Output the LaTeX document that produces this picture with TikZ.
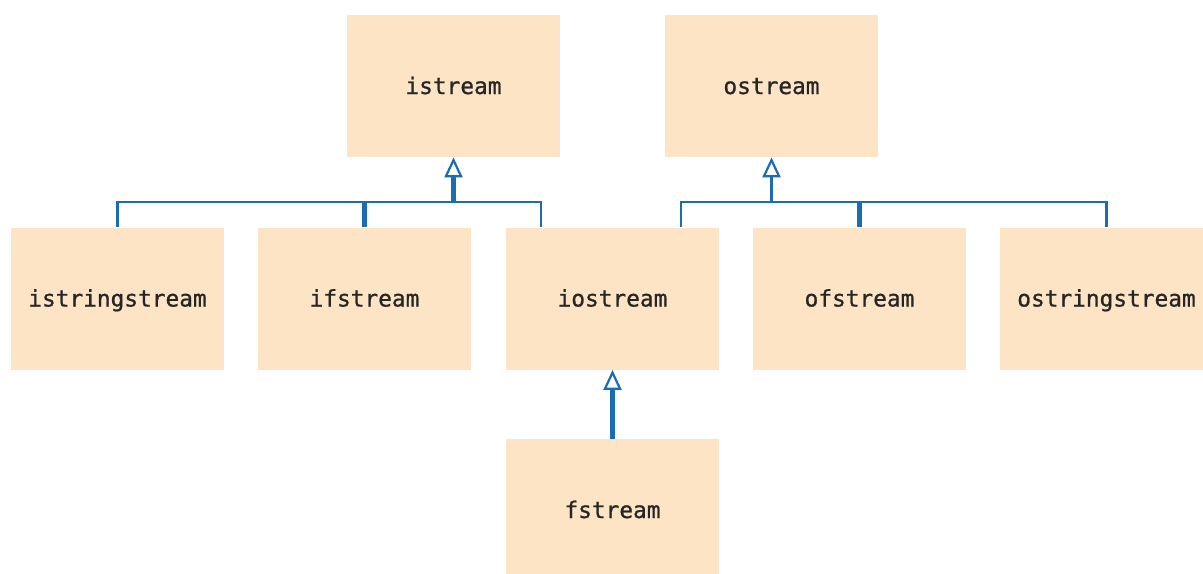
\documentclass[tikz,border=0pt]{standalone}
\usepackage{fontspec}
\newfontfamily\codefont[FakeBold=0.9]{DejaVu Sans Mono}
\usetikzlibrary{arrows.meta}
\definecolor{boxfill}{HTML}{FCE4C4}
\definecolor{linkblue}{HTML}{1A6DB5}
\definecolor{txt}{HTML}{262626}
\tikzset{
  cls/.style={fill=boxfill, draw=none, minimum width=106.5pt, minimum height=71pt,
    inner sep=0pt, text=txt, font=\codefont\fontsize{11.4}{14}\selectfont,
    text depth=0pt, text height=8pt},
  conn/.style={draw=linkblue, line width=1.1pt, line join=miter},
  thickconn/.style={draw=linkblue, line width=2.1pt, line join=miter},
  inh/.style={-{Triangle[open, length=10pt, width=9pt, line width=1.1pt, fill=white]}}
}
\begin{document}
\begin{tikzpicture}[x=0.5pt, y=-0.5pt]
\clip (0,0) rectangle (1203,573);
\fill[white] (0,0) rectangle (1203,573);
\node[cls] (istream) at (453.5,86) {istream};
\node[cls] (ostream) at (771.5,86) {ostream};
\node[cls] (istringstream) at (117.5,298.5) {istringstream};
\node[cls] (ifstream) at (364.5,298.5) {ifstream};
\node[cls] (iostream) at (612.5,298.5) {iostream};
\node[cls] (ofstream) at (859.5,298.5) {ofstream};
\node[cls] (ostringstream) at (1106.5,298.5) {ostringstream};
\node[cls] (fstream) at (612.5,510) {fstream};
\coordinate (ibar) at (453.5,202);
\coordinate (obar) at (771.5,202);
% istream tree
\draw[conn] (istringstream.north) |- (ibar) -| ([xshift=-35.75pt]iostream.north);
\draw[thickconn] (ifstream.north) -- (ifstream.north |- ibar);
\draw[thickconn, inh] (ibar) -- (istream.south);
% ostream tree
\draw[conn] ([xshift=34.25pt]iostream.north) |- (obar) -| (ostringstream.north);
\draw[thickconn] (ofstream.north) -- (ofstream.north |- obar);
\draw[conn, inh] (obar) -- (ostream.south);
% fstream
\draw[thickconn, inh] (fstream.north) -- (iostream.south);
\end{tikzpicture}
\end{document}
